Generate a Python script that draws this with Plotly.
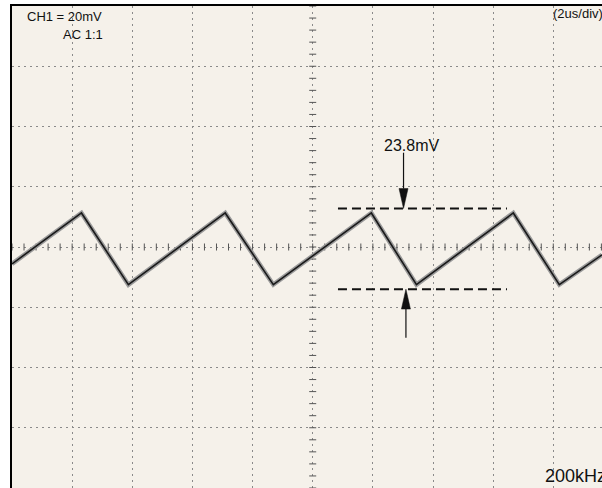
import plotly.graph_objects as go

# Scope settings
VOLTS_PER_DIV = 20      # mV/div
TIME_PER_DIV = 2        # us/div
N_XDIV, N_YDIV = 10, 8

# Triangle ripple waveform vertices (time in us, amplitude in mV)
wave_t = [0.0, 2.31, 3.87, 7.09, 8.69, 11.95, 13.45, 16.67, 18.20, 19.62]
wave_v = [-5.6, 11.3, -12.5, 11.3, -12.5, 11.3, -12.5, 11.3, -12.5, -2.6]

# Peak-to-peak measurement
meas_top = 11.3
meas_bottom = -12.5
meas_label = f"{meas_top - meas_bottom:.1f}mV"
meas_t = [10.84, 16.46]          # extent of the cursor lines
cursor_pad = 1.5                 # clearance for trace thickness (mV)
arrow_top_t, arrow_top_tail = 13.02, 31.3
arrow_bot_t, arrow_bot_tail = 13.10, -30.1
head_len, head_half = 6.6, 0.15

x_max = 19.62
y_half = VOLTS_PER_DIV * N_YDIV / 2

BG = "#f5f1ea"
FONT = "Arial, Liberation Sans, sans-serif"
TICK_COL = "#555"

fig = go.Figure()

# minor division ticks along the centre axes
tick_t = [i * TIME_PER_DIV / 5 for i in range(N_XDIV * 5 + 1)]
tick_v = [-y_half + i * VOLTS_PER_DIV / 5 for i in range(N_YDIV * 5 + 1)]
fig.add_trace(go.Scatter(x=tick_t, y=[0] * len(tick_t), mode="markers",
                         marker=dict(symbol="line-ns-open", size=5, color=TICK_COL,
                                     line=dict(color=TICK_COL, width=1)),
                         hoverinfo="skip"))
centre_t = TIME_PER_DIV * N_XDIV / 2
fig.add_trace(go.Scatter(x=[centre_t] * len(tick_v), y=tick_v, mode="markers",
                         marker=dict(symbol="line-ew-open", size=5, color=TICK_COL,
                                     line=dict(color=TICK_COL, width=1)),
                         hoverinfo="skip"))

# waveform: grey halo with dark core
fig.add_trace(go.Scatter(x=wave_t, y=wave_v, mode="lines",
                         line=dict(color="#9a9a9a", width=4.5), hoverinfo="skip"))
fig.add_trace(go.Scatter(x=wave_t, y=wave_v, mode="lines",
                         line=dict(color="#1a1a1a", width=1.6), hoverinfo="skip"))

# cursor lines
top_c = meas_top + cursor_pad
bot_c = meas_bottom - cursor_pad
for lvl in (top_c, bot_c):
    fig.add_trace(go.Scatter(x=meas_t, y=[lvl, lvl], mode="lines",
                             line=dict(color="#111", width=2, dash="9px,5px"),
                             hoverinfo="skip"))

# arrows pointing at the cursors
def arrow(t, tail, tip, direction):
    base = tip + direction * head_len
    fig.add_trace(go.Scatter(x=[t, t], y=[tail, base], mode="lines",
                             line=dict(color="#111", width=1.2), hoverinfo="skip"))
    fig.add_trace(go.Scatter(x=[t - head_half, t + head_half, t, t - head_half],
                             y=[base, base, tip, base], mode="lines",
                             fill="toself", fillcolor="#111",
                             line=dict(color="#111", width=0.5), hoverinfo="skip"))

arrow(arrow_top_t, arrow_top_tail, top_c, 1)
arrow(arrow_bot_t, arrow_bot_tail, bot_c, -1)

annotations = [
    dict(x=13.3, y=33.8, text=meas_label, font=dict(size=16)),
    dict(x=3.07, y=76.4, text=f"CH1 = {VOLTS_PER_DIV}mV", xanchor="right", font=dict(size=13)),
    dict(x=3.10, y=70.4, text="AC 1:1", xanchor="right", font=dict(size=13)),
    dict(x=17.93, y=77.4, text=f"({TIME_PER_DIV}us/div)", xanchor="left", font=dict(size=13)),
    dict(x=17.65, y=-75.9, text="200kHz", xanchor="left", font=dict(size=18)),
]
for a in annotations:
    a.update(xref="x", yref="y", showarrow=False, yanchor="middle",
             font=dict(family=FONT, color="#111", size=a["font"]["size"]))

fig.update_layout(
    width=602, height=488,
    margin=dict(l=12, r=0, t=6, b=0),
    paper_bgcolor="white", plot_bgcolor=BG,
    showlegend=False,
    annotations=annotations,
    xaxis=dict(range=[0, x_max], dtick=TIME_PER_DIV, tick0=0, side="top",
               showticklabels=False, ticks="", zeroline=False,
               showgrid=True, gridcolor="#8a8a8a", gridwidth=1, griddash="2px,4px",
               showline=True, linecolor="#000", linewidth=1.5),
    yaxis=dict(range=[-y_half, y_half], dtick=VOLTS_PER_DIV, tick0=0,
               showticklabels=False, ticks="", zeroline=False,
               showgrid=True, gridcolor="#8a8a8a", gridwidth=1, griddash="2px,4px",
               showline=True, linecolor="#000", linewidth=1.5),
)

fig.write_html("out.html")
